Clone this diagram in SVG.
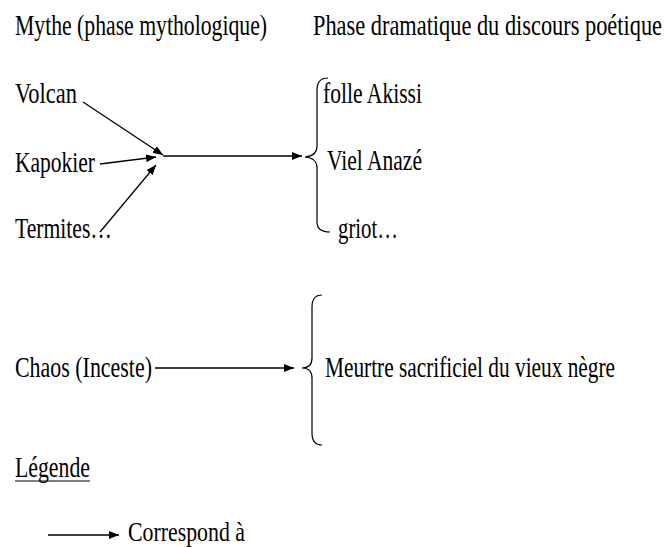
<svg xmlns="http://www.w3.org/2000/svg" width="669" height="547" viewBox="0 0 669 547">
<defs>
<marker id="ah" markerWidth="10" markerHeight="8" refX="10" refY="4" orient="auto" markerUnits="userSpaceOnUse">
<path d="M0,0 L10,4 L0,8 Z" fill="#000"/>
</marker>
<style>
text{font-family:"Liberation Serif","Times New Roman",serif;font-size:22px;fill:#000}
.c{stroke:#000;stroke-width:1.3;fill:none}
.b{stroke:#000;stroke-width:1.2;fill:none}
</style>
</defs>
<rect width="669" height="547" fill="#fff"/>
<g id="title-myth"><text transform="translate(15,35) scale(1,1.3)" textLength="252" lengthAdjust="spacingAndGlyphs">Mythe (phase mythologique)</text></g>
<g id="title-drama"><text transform="translate(313,35) scale(1,1.3)" textLength="349" lengthAdjust="spacingAndGlyphs">Phase dramatique du discours poétique</text></g>
<g id="volcan"><text transform="translate(15,103) scale(1,1.3)" textLength="62" lengthAdjust="spacingAndGlyphs">Volcan</text></g>
<g id="kapokier"><text transform="translate(15,172) scale(1,1.3)" textLength="80" lengthAdjust="spacingAndGlyphs">Kapokier</text></g>
<g id="termites"><text transform="translate(15,238) scale(1,1.3)" textLength="97" lengthAdjust="spacingAndGlyphs">Termites…</text></g>
<g id="folle"><text transform="translate(323,103) scale(1,1.3)" textLength="99" lengthAdjust="spacingAndGlyphs">folle Akissi</text></g>
<g id="viel"><text transform="translate(327,170) scale(1,1.3)" textLength="95" lengthAdjust="spacingAndGlyphs">Viel Anazé</text></g>
<g id="griot"><text transform="translate(338,238) scale(1,1.3)" textLength="60" lengthAdjust="spacingAndGlyphs">griot…</text></g>
<g id="brace1"><path class="b" d="M328,78 Q317,78 317,90 L317,146 Q317,156 305,157 Q317,158 317,168 L317,222 Q317,232 330,232"/></g>
<g id="chaos"><text transform="translate(15,377) scale(1,1.3)" textLength="137" lengthAdjust="spacingAndGlyphs">Chaos (Inceste)</text></g>
<g id="meurtre"><text transform="translate(325,377) scale(1,1.3)" textLength="290" lengthAdjust="spacingAndGlyphs">Meurtre sacrificiel du vieux nègre</text></g>
<g id="brace2"><path class="b" d="M322,295 Q312,295 312,307 L312,358 Q312,368 302,368 Q312,368 312,378 L312,433 Q312,445 322,445"/></g>
<g id="legende"><text transform="translate(15,477) scale(1,1.3)" textLength="75" lengthAdjust="spacingAndGlyphs">Légende</text><line x1="15" y1="481" x2="90" y2="481" stroke="#000" stroke-width="1.2"/></g>
<g id="correspond"><text transform="translate(128,541) scale(1,1.2)" textLength="117" lengthAdjust="spacingAndGlyphs">Correspond à</text></g>
<g id="connectors">
<line class="c" x1="83" y1="102" x2="163" y2="155" marker-end="url(#ah)"/>
<line class="c" x1="100" y1="164" x2="156" y2="157" marker-end="url(#ah)"/>
<line class="c" x1="100" y1="232" x2="156" y2="165" marker-end="url(#ah)"/>
<line class="c" x1="163" y1="156" x2="302" y2="156" marker-end="url(#ah)"/>
<line class="c" x1="155" y1="368" x2="294" y2="368" marker-end="url(#ah)"/>
<line class="c" x1="48" y1="535" x2="119" y2="535" marker-end="url(#ah)"/>
</g>
</svg>
